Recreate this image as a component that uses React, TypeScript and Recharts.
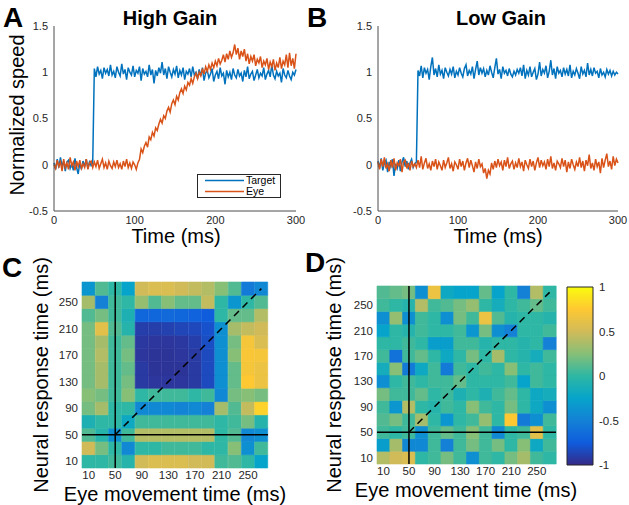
import React from "react";
import {
  LineChart,
  Line,
  XAxis,
  YAxis,
  Legend,
  BarChart,
  Bar,
  Cell,
  ReferenceLine,
} from "recharts";

const FONT = '"Liberation Sans", Arial, Helvetica, sans-serif';
const BLUE = "#0072bd";
const ORANGE = "#d95319";
const AXIS = "#4d4d4d";

// sampling every 2 ms, 0..300
const timeMs = Array.from({ length: 151 }, (_, i) => i * 2);
const timeTicks = [0, 100, 200, 300];
const speedTicks = [-0.5, 0, 0.5, 1, 1.5];
const seriesNames = ["Target", "Eye"];

const targetHigh = [
  0.02, -0.05, 0.06, -0.03, 0.08, -0.02, 0.04, -0.07, 0.03, 0.05,
  -0.04, 0.01, -0.06, 0.07, -0.03, -0.1, 0.02, -0.05, 0.04, -0.02,
  0.06, -0.04, 0.03, -0.01, 0.02,
  1.04, 0.95, 1.06, 0.98, 1.02, 0.93, 1.05, 0.99, 1.03, 0.96,
  1.08, 0.97, 1.01, 0.94, 1.06, 1.0, 0.96, 1.09, 0.98, 1.03,
  0.92, 1.05, 1.0, 0.97, 1.07, 0.95, 1.02, 0.99, 1.06, 0.91,
  1.04, 0.98, 1.01, 0.95, 1.08, 0.97, 1.03, 0.88, 1.02, 0.96,
  1.05, 0.99, 1.11, 0.97, 1.04, 0.93, 1.06, 1.0, 0.95, 1.03,
  0.98, 1.07, 0.94, 1.02, 0.97, 1.05, 0.92, 1.01, 0.98, 1.04,
  0.95, 1.06, 0.97, 1.0, 0.93, 1.03, 0.96, 1.05, 0.91, 0.99,
  1.02, 0.94, 0.98, 1.04, 0.9, 0.97, 1.01, 0.93, 1.05, 0.96,
  0.99, 0.87, 1.02, 0.95, 1.0, 0.92, 1.04, 0.97, 0.94, 1.03,
  0.96, 0.99, 0.9, 1.02, 0.95, 1.06, 0.93, 0.98, 1.01, 0.91,
  0.97, 1.03, 0.94, 0.99, 0.96, 1.05, 0.92, 0.98, 1.02, 0.95,
  1.08, 0.97, 0.93, 1.01, 0.96, 0.99, 0.89, 1.04, 0.97, 0.94,
  1.02, 0.96, 0.92, 1.0, 0.97, 1.03,
];

const eyeHigh = [
  0.0, -0.04, 0.05, -0.02, 0.03, -0.07, 0.06, -0.03, 0.02, -0.05,
  0.08, -0.01, 0.03, -0.06, 0.04, -0.02, 0.05, -0.04, 0.01, -0.03,
  0.06, -0.05, 0.02, 0.04, -0.03,
  0.03, -0.02, 0.05, -0.04, 0.01, 0.06, -0.03, 0.02, -0.05, 0.04,
  -0.01, -0.04, 0.03, -0.02, 0.05, -0.03, 0.01, -0.05, 0.04, -0.02,
  0.06, -0.03, 0.02, -0.04, 0.03, 0.0, -0.05, 0.02,
  0.06, 0.17, 0.13, 0.2, 0.24, 0.19, 0.3, 0.27, 0.35, 0.31,
  0.4, 0.37, 0.44, 0.49, 0.45, 0.53, 0.5, 0.58, 0.62, 0.57,
  0.66, 0.7, 0.65, 0.74, 0.7, 0.78, 0.82, 0.77, 0.85, 0.81,
  0.89, 0.86, 0.93, 0.88, 0.95, 0.99, 0.93, 1.0, 0.96, 1.04,
  0.98, 1.06, 1.01, 1.08, 1.03, 1.1, 1.05, 1.12, 1.07, 1.15,
  1.09, 1.13, 1.19, 1.11, 1.2, 1.14, 1.23, 1.16, 1.21, 1.3,
  1.19, 1.26, 1.14, 1.23, 1.17, 1.25, 1.12, 1.2, 1.09, 1.17,
  1.12, 1.19, 1.07, 1.14, 1.1, 1.17, 1.05, 1.12, 1.08, 1.15,
  1.03, 1.11, 1.06, 1.14, 1.02, 1.1, 1.05, 1.16, 1.04, 1.12,
  1.08, 1.19, 1.05, 1.21, 1.07, 1.15, 1.04, 1.2,
];

const targetLow = [
  0.04, -0.03, 0.07, -0.06, 0.02, 0.05, -0.08, 0.03, -0.02, 0.06,
  -0.12, 0.01, -0.04, 0.05, -0.07, 0.03, 0.08, -0.02, 0.04, -0.05,
  0.02, 0.06, -0.03, 0.01, 0.03,
  1.02, 0.96, 1.07, 0.94, 1.05, 0.99, 1.03, 0.92, 1.06, 1.16,
  0.97, 1.04, 0.95, 1.08, 0.98, 1.02, 0.93, 1.05, 1.0, 0.96,
  1.03, 0.98, 1.06, 0.94, 1.01, 0.97, 1.05, 0.99, 0.95, 1.04,
  1.08, 0.96, 1.02, 0.98, 1.06, 0.93, 1.03, 1.12, 0.97, 1.05,
  0.99, 1.04, 0.95, 1.02, 0.97, 1.07, 1.0, 0.94, 1.05, 1.15,
  0.98, 1.03, 0.93, 1.06, 0.99, 1.02, 0.96, 1.04, 0.98, 0.95,
  1.01, 0.97, 1.03, 0.99, 1.05, 0.96, 1.08, 0.93, 1.02, 0.97,
  1.06, 0.95, 1.0, 1.04, 0.92, 0.98, 1.11, 0.96, 1.03, 0.99,
  1.07, 0.94, 1.01, 1.13, 0.97, 1.04, 0.93, 1.06, 0.99, 1.02,
  0.95, 1.05, 0.98, 1.03, 0.96, 1.08, 0.94, 1.01, 0.97, 1.04,
  0.99, 0.93, 1.06, 0.98, 1.02, 0.95, 1.1, 0.97, 1.03, 0.96,
  1.05, 0.99, 1.01, 0.94, 1.04, 0.97, 1.0, 0.95, 1.03, 0.98,
  1.02, 0.96, 1.01, 0.97, 1.0, 0.98,
];

const eyeLow = [
  0.03, -0.05, 0.06, -0.02, 0.08, -0.04, 0.01, -0.07, 0.05, -0.03,
  0.07, -0.06, 0.02, -0.01, 0.06, -0.08, 0.03, 0.05, -0.04, 0.02,
  -0.06, 0.04, -0.02, 0.01, -0.03,
  0.05, -0.03, 0.09, -0.05, 0.02, 0.07, -0.04, 0.01, -0.06, 0.04,
  -0.02, 0.06, -0.05, 0.03, -0.01, -0.06, 0.05, -0.03, 0.02, 0.08,
  -0.04, 0.01, -0.07, 0.03, 0.0, -0.05, 0.06, -0.02, 0.04, -0.06,
  0.02, 0.07, -0.03, 0.05, -0.01, -0.08, 0.03, -0.04, 0.06, -0.02,
  0.01, -0.09, -0.04, -0.15, -0.06, -0.1, 0.02, -0.05, 0.04, -0.03,
  0.06, -0.01, 0.03, -0.06, 0.05, -0.02, 0.08, -0.04, 0.01, 0.04,
  -0.05, 0.02, -0.03, 0.07, -0.02, 0.03, -0.07, 0.05, 0.0, -0.04,
  0.06, -0.02, 0.04, -0.06, 0.02, 0.08, -0.03, 0.05, -0.01, 0.03,
  -0.05, 0.06, -0.02, 0.09, -0.04, 0.02, -0.06, 0.04, 0.01, -0.03,
  0.07, -0.02, 0.05, -0.08, 0.03, -0.04, 0.06, 0.0, -0.05, 0.03,
  -0.02, 0.08, -0.03, 0.04, -0.07, 0.05, -0.01, 0.11, -0.04, 0.02,
  -0.06, 0.06, -0.02, 0.03, -0.09, 0.07, -0.03, 0.05, 0.12, -0.02,
  0.04, -0.05, 0.09, -0.01, 0.06, 0.02,
];

// heatmap bins (ms), 20 ms wide
const binCenters = [10, 30, 50, 70, 90, 110, 130, 150, 170, 190, 210, 230, 250, 270];
const binTicks = [10, 50, 90, 130, 170, 210, 250];
const colorbarTicks = [-1, -0.5, 0, 0.5, 1];

// correlation rows, top (270 ms) to bottom (10 ms); columns 10..270 ms
const corrHigh = [
  [-0.35, 0.1, 0.0, -0.25, 0.5, 0.55, 0.55, 0.5, 0.45, 0.4, 0.25, 0.1, -0.55, -0.45],
  [0.35, -0.5, 0.05, 0.0, 0.3, 0.1, 0.25, 0.15, 0.15, 0.45, 0.0, -0.35, 0.0, 0.1],
  [0.1, 0.2, 0.05, -0.1, -0.68, -0.68, -0.66, -0.68, -0.7, -0.74, 0.0, 0.15, 0.15, 0.4],
  [0.2, 0.6, 0.1, -0.05, -0.9, -0.9, -0.88, -0.86, -0.85, -0.8, -0.4, 0.35, 0.45, 0.5],
  [0.2, 0.35, 0.05, 0.15, -0.93, -0.94, -0.94, -0.93, -0.9, -0.82, -0.4, 0.2, 0.7, 0.55],
  [0.2, 0.4, 0.05, 0.2, -0.94, -0.95, -0.95, -0.94, -0.92, -0.84, -0.4, 0.25, 0.72, 0.7],
  [0.2, 0.35, 0.05, 0.15, -0.92, -0.95, -0.95, -0.95, -0.92, -0.84, -0.4, 0.15, 0.7, 0.65],
  [0.2, 0.35, 0.05, 0.2, -0.92, -0.94, -0.94, -0.94, -0.92, -0.84, -0.4, 0.15, 0.75, 0.65],
  [0.25, 0.2, 0.05, 0.25, 0.0, 0.05, 0.05, 0.05, 0.0, 0.05, -0.45, 0.2, 0.25, 0.2],
  [0.2, 0.35, 0.0, 0.0, -0.45, -0.45, -0.45, -0.48, -0.45, -0.5, 0.35, 0.1, 0.45, 0.8],
  [-0.1, 0.0, 0.0, -0.2, 0.05, 0.05, 0.05, 0.05, 0.05, 0.05, 0.0, 0.05, 0.2, -0.05],
  [0.1, -0.05, -0.4, 0.05, 0.4, 0.4, 0.4, 0.4, 0.4, 0.4, 0.0, 0.1, -0.45, -0.4],
  [0.5, 0.2, 0.0, -0.45, 0.0, 0.0, 0.05, 0.05, 0.05, 0.0, 0.0, 0.25, -0.4, 0.05],
  [0.0, 0.0, 0.05, -0.05, 0.5, 0.55, 0.55, 0.55, 0.5, 0.5, 0.05, 0.1, 0.0, -0.25],
];

const corrLow = [
  [0.1, 0.15, 0.2, -0.4, 0.65, -0.2, -0.25, -0.25, 0.15, -0.25, 0.0, -0.5, 0.4, 0.0],
  [0.05, 0.0, -0.05, 0.4, 0.05, 0.1, 0.2, 0.3, 0.0, -0.15, 0.0, 0.05, 0.15, 0.05],
  [-0.4, 0.3, -0.4, 0.05, 0.0, -0.4, 0.2, 0.05, 0.65, 0.1, -0.05, 0.0, 0.0, -0.05],
  [-0.25, 0.0, -0.05, 0.05, 0.0, 0.0, 0.05, -0.35, 0.2, -0.4, -0.5, 0.0, 0.0, 0.05],
  [0.0, 0.0, 0.05, 0.0, -0.3, -0.3, 0.05, 0.05, -0.05, 0.0, 0.0, -0.05, 0.0, -0.5],
  [0.05, -0.6, 0.05, 0.15, 0.0, -0.2, 0.0, 0.2, 0.0, 0.35, 0.0, -0.05, -0.15, 0.05],
  [-0.15, 0.25, -0.55, -0.2, 0.05, -0.55, 0.05, 0.0, 0.05, 0.0, 0.25, 0.0, 0.05, 0.0],
  [-0.4, 0.0, 0.05, 0.0, 0.05, 0.05, 0.15, 0.0, 0.0, 0.0, 0.05, -0.25, 0.05, 0.0],
  [0.2, 0.05, 0.05, 0.15, 0.0, 0.05, -0.1, 0.0, -0.1, 0.05, 0.15, 0.0, -0.2, -0.15],
  [0.05, -0.35, 0.4, 0.0, -0.05, 0.05, 0.0, 0.25, 0.05, 0.0, 0.2, 0.0, -0.2, -0.4],
  [0.1, 0.2, 0.05, 0.35, 0.0, -0.35, 0.0, 0.05, 0.3, 0.0, 0.75, -0.55, -0.4, 0.05],
  [0.05, 0.0, 0.05, -0.4, 0.05, 0.15, 0.05, 0.25, 0.05, -0.45, 0.0, 0.05, 0.6, 0.0],
  [-0.3, 0.35, -0.45, -0.45, 0.05, -0.5, 0.05, 0.2, 0.05, 0.2, 0.0, 0.25, -0.2, 0.05],
  [0.4, 0.5, 0.55, 0.0, 0.05, 0.2, 0.05, -0.4, 0.05, 0.0, 0.2, 0.35, 0.05, 0.0],
];

// parula-ish stops from -1 to 1
const PARULA = [
  "#352a87", "#0f5cdd", "#1481d6", "#06a4ca", "#2eb7a4",
  "#87bf77", "#d1bb59", "#fec832", "#f9fb0e",
];

function hexToRgb(h: string) {
  const n = parseInt(h.slice(1), 16);
  return [(n >> 16) & 255, (n >> 8) & 255, n & 255];
}

function parula(v: number) {
  const t = Math.min(1, Math.max(0, (v + 1) / 2)) * (PARULA.length - 1);
  const i = Math.min(PARULA.length - 2, Math.floor(t));
  const f = t - i;
  const a = hexToRgb(PARULA[i]);
  const b = hexToRgb(PARULA[i + 1]);
  const c = a.map((x, k) => Math.round(x + (b[k] - x) * f));
  return `rgb(${c[0]},${c[1]},${c[2]})`;
}

const tickStyle = { fill: "#262626", fontSize: 11, fontFamily: FONT };
const heatTick = { fill: "#262626", fontSize: 11.5, fontFamily: FONT };

const renderLegend = (props: any) => {
  const payload = [...(props.payload || [])].sort(
    (a: any, b: any) => seriesNames.indexOf(a.value) - seriesNames.indexOf(b.value)
  );
  return (
    <div
      style={{
        border: "1px solid #262626",
        background: "#fff",
        width: 82,
        padding: 0,
        fontFamily: FONT,
        fontSize: 10.5,
        lineHeight: "11px",
        color: "#000",
      }}
    >
      {payload.map((entry: any) => (
        <div key={entry.value} style={{ display: "flex", alignItems: "center", height: 11 }}>
          <svg width={46} height={11}>
            <line x1={7} x2={46} y1={5.5} y2={5.5} stroke={entry.color} strokeWidth={1.5} />
          </svg>
          <span style={{ marginLeft: 2 }}>{entry.value}</span>
        </div>
      ))}
    </div>
  );
};

function SpeedPanel({ target, eye, left, width, margin, legend }: any) {
  const data = timeMs.map((t, i) => ({ t, target: target[i], eye: eye[i] }));
  return (
    <div style={{ position: "absolute", left, top: 0 }}>
      <LineChart width={width} height={250} data={data} margin={margin}>
        <XAxis
          dataKey="t"
          type="number"
          domain={[0, 300]}
          ticks={timeTicks}
          height={30}
          stroke={AXIS}
          tickLine={false}
          tickSize={4}
          tickMargin={1}
          tick={tickStyle}
        />
        <YAxis
          type="number"
          domain={[-0.5, 1.5]}
          ticks={speedTicks}
          width={30}
          stroke={AXIS}
          tickLine={false}
          tickSize={4}
          tickMargin={2}
          tick={tickStyle}
        />
        <Line
          dataKey="target"
          name={seriesNames[0]}
          stroke={BLUE}
          strokeWidth={1.5}
          dot={false}
          isAnimationActive={false}
        />
        <Line
          dataKey="eye"
          name={seriesNames[1]}
          stroke={ORANGE}
          strokeWidth={1.5}
          dot={false}
          isAnimationActive={false}
        />
        {legend && (
          <Legend
            layout="vertical"
            align="center"
            verticalAlign="middle"
            content={renderLegend}
            wrapperStyle={{ left: 197, top: 174, width: 84 }}
          />
        )}
      </LineChart>
    </div>
  );
}

function Heatmap({ rows, left, top, width, height, margin }: any) {
  const binWidth = binCenters[1] - binCenters[0];
  const data = binCenters.map((x) => {
    const d: any = { x: String(x) };
    binCenters.forEach((_, k) => {
      d[`b${k}`] = binWidth;
    });
    return d;
  });
  const n = binCenters.length;
  return (
    <div style={{ position: "absolute", left, top }}>
      <BarChart
        width={width}
        height={height}
        data={data}
        margin={margin}
        barCategoryGap={0}
        barGap={0}
      >
        <XAxis
          dataKey="x"
          interval={1}
          height={20}
          axisLine={false}
          tickLine={false}
          tickSize={2}
          tickMargin={1}
          tick={heatTick}
        />
        <YAxis
          type="number"
          domain={[0, binWidth * n]}
          ticks={binTicks}
          width={30}
          axisLine={false}
          tickLine={false}
          tickSize={2}
          tickMargin={2}
          tick={heatTick}
        />
        {binCenters.map((_, k) => (
          <Bar key={k} dataKey={`b${k}`} stackId="cells" isAnimationActive={false}>
            {binCenters.map((__, c) => {
              const col = parula(rows[n - 1 - k][c]);
              return <Cell key={c} fill={col} stroke={col} strokeWidth={0.6} />;
            })}
          </Bar>
        ))}
        <ReferenceLine x="50" stroke="#000" strokeWidth={1.5} />
        <ReferenceLine y={50} stroke="#000" strokeWidth={1.5} />
        <ReferenceLine
          segment={[
            { x: "50", y: 50 },
            { x: "270", y: 270 },
          ]}
          stroke="#000"
          strokeWidth={1.5}
          strokeDasharray="7 5"
        />
      </BarChart>
    </div>
  );
}

function Colorbar() {
  const data = [{ name: "scale", span: [colorbarTicks[0], colorbarTicks[colorbarTicks.length - 1]] }];
  return (
    <div style={{ position: "absolute", left: 560, top: 250 }}>
      <BarChart
        width={69}
        height={255}
        data={data}
        margin={{ top: 37, right: 6, bottom: 40, left: 7 }}
        barCategoryGap={0}
      >
        <defs>
          <linearGradient id="parulaFill" x1="0" y1="1" x2="0" y2="0">
            {PARULA.map((c, i) => (
              <stop key={i} offset={i / (PARULA.length - 1)} stopColor={c} />
            ))}
          </linearGradient>
        </defs>
        <XAxis dataKey="name" hide />
        <YAxis
          orientation="right"
          type="number"
          domain={[-1, 1]}
          ticks={colorbarTicks}
          width={30}
          axisLine={false}
          tickLine={false}
          tickSize={4}
          tickMargin={2}
          tick={heatTick}
        />
        <Bar
          dataKey="span"
          fill="url(#parulaFill)"
          stroke="#262626"
          strokeWidth={1}
          isAnimationActive={false}
        />
      </BarChart>
    </div>
  );
}

export default function App() {
  return (
    <div
      style={{
        position: "absolute",
        left: 0,
        top: 0,
        width: 629,
        height: 505,
        background: "#fff",
        overflow: "hidden",
      }}
    >
      <SpeedPanel
        target={targetHigh}
        eye={eyeHigh}
        left={0}
        width={310}
        margin={{ top: 26, right: 14, bottom: 9, left: 24 }}
        legend
      />
      <SpeedPanel
        target={targetLow}
        eye={eyeLow}
        left={320}
        width={309}
        margin={{ top: 26, right: 11, bottom: 9, left: 28 }}
      />
      <Heatmap
        rows={corrHigh}
        left={0}
        top={250}
        width={310}
        height={255}
        margin={{ top: 32, right: 42, bottom: 17, left: 52 }}
      />
      <Heatmap
        rows={corrLow}
        left={310}
        top={250}
        width={319}
        height={255}
        margin={{ top: 36, right: 73, bottom: 21, left: 37 }}
      />
      <Colorbar />
      <svg
        width={629}
        height={505}
        style={{ position: "absolute", left: 0, top: 0, pointerEvents: "none" }}
        fontFamily={FONT}
        fill="#000"
      >
        <text x={3} y={27} fontSize={28} fontWeight="bold">A</text>
        <text x={307} y={27} fontSize={28} fontWeight="bold">B</text>
        <text x={2} y={277} fontSize={28} fontWeight="bold">C</text>
        <text x={305} y={272} fontSize={28} fontWeight="bold">D</text>
        <text x={170} y={25} fontSize={20} fontWeight="bold" textAnchor="middle">High Gain</text>
        <text x={501} y={25} fontSize={20} fontWeight="bold" textAnchor="middle">Low Gain</text>
        <text transform="translate(24,115) rotate(-90)" fontSize={20} textAnchor="middle">
          Normalized speed
        </text>
        <text x={176} y={243} fontSize={20} textAnchor="middle">Time (ms)</text>
        <text x={498} y={243} fontSize={20} textAnchor="middle">Time (ms)</text>
        <text transform="translate(48,375) rotate(-90)" fontSize={20} textAnchor="middle">
          Neural response time (ms)
        </text>
        <text transform="translate(341,375) rotate(-90)" fontSize={20} textAnchor="middle">
          Neural response time (ms)
        </text>
        <text x={175} y={501} fontSize={20} textAnchor="middle">Eye movement time (ms)</text>
        <text x={466} y={497} fontSize={20} textAnchor="middle">Eye movement time (ms)</text>
      </svg>
    </div>
  );
}
